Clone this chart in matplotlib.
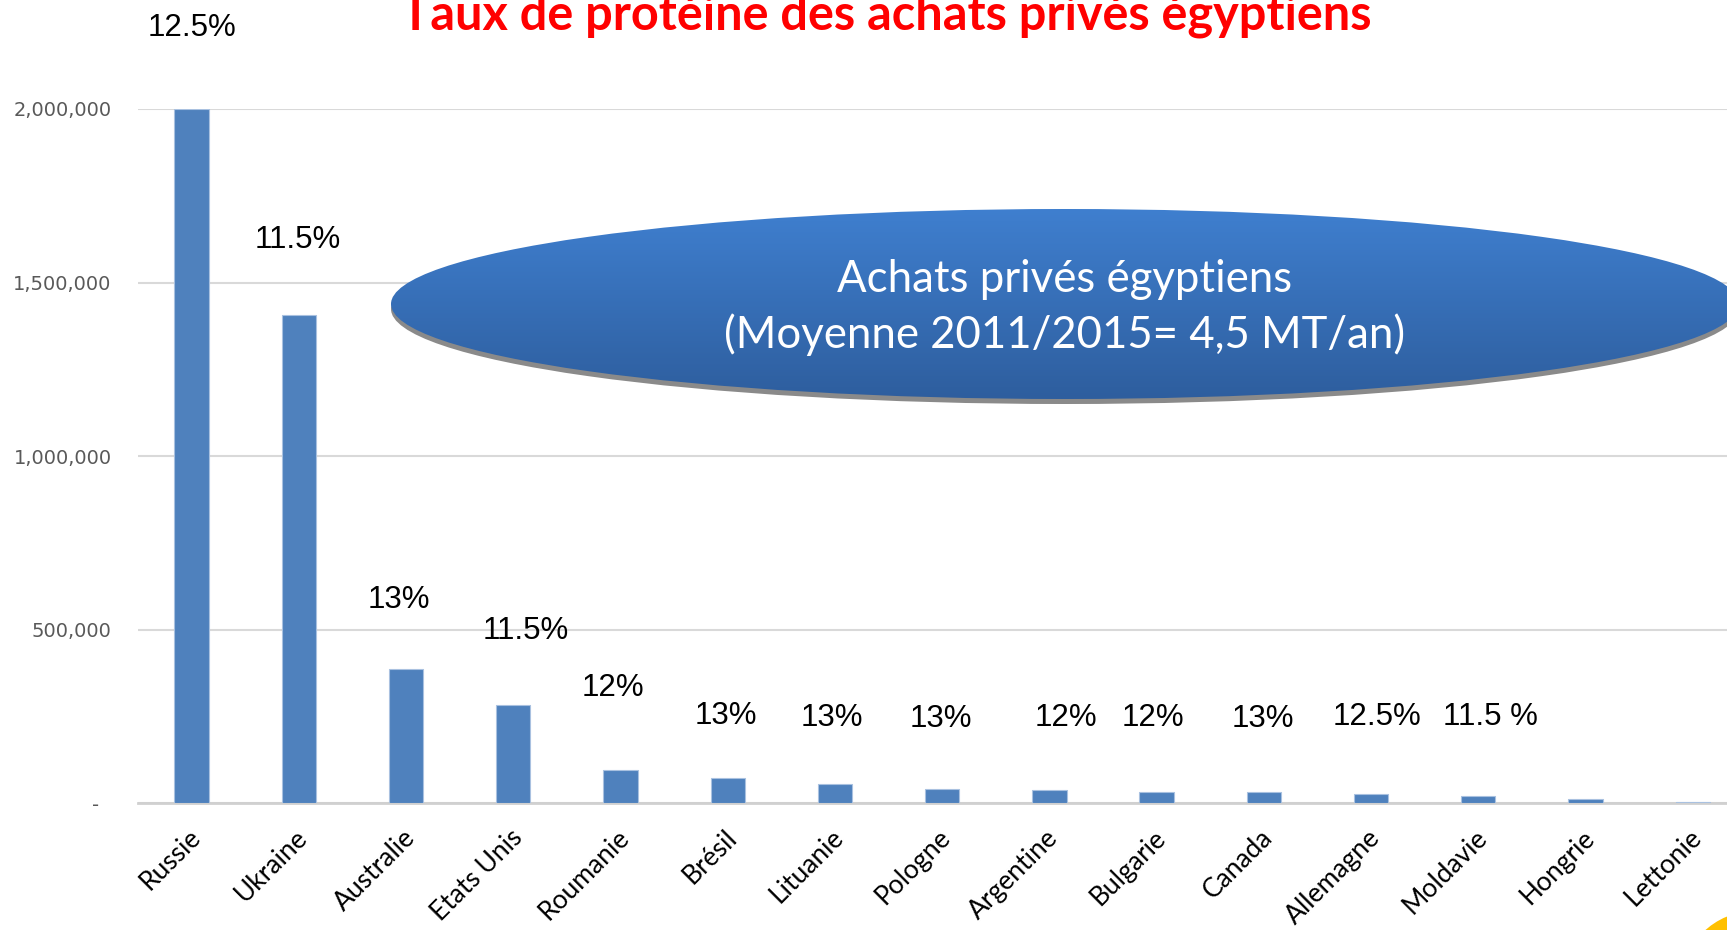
import numpy as np
import matplotlib
matplotlib.use("Agg")
import matplotlib.pyplot as plt
from matplotlib.patches import Ellipse, Circle
from matplotlib.ticker import FixedLocator
import matplotlib.transforms as mtransforms

# data
countries = ["Russie", "Ukraine", "Australie", "Etats Unis", "Roumanie", "Brésil",
             "Lituanie", "Pologne", "Argentine", "Bulgarie", "Canada", "Allemagne",
             "Moldavie", "Hongrie", "Lettonie"]
tonnes = [2000000, 1406000, 387000, 283000, 95000, 73000, 54000, 41000,
          38000, 32000, 31000, 25000, 19000, 12000, 3000]
protein = ["12.5%", "11.5%", "13%", "11.5%", "12%", "13%", "13%", "13%",
           "12%", "12%", "13%", "12.5%", "11.5 %"]
y_ticks = [0, 500000, 1000000, 1500000, 2000000]
y_tick_labels = ["-  ", "500,000", "1,000,000", "1,500,000", "2,000,000"]

# where the protein labels sit (data units), as in the original slide
label_dx = [0.0, -0.01, -0.07, 0.12, -0.07, -0.015, -0.03, -0.01, 0.15, -0.03, -0.01, 0.06, 0.11]
label_y = [2233000, 1622000, 585000, 496000, 331000, 251000, 245000, 242000,
           245000, 245000, 242000, 248000, 248000]

W, H = 1727, 930
fig = plt.figure(figsize=(W / 100, H / 100), dpi=100)

ax = fig.add_axes([138 / W, 1 - 803 / H, (W - 138) / W, (803 - 109) / H])
x = np.arange(len(countries))
ax.bar(x, tonnes, width=0.32, color="#4f81bd", edgecolor="#a9c1e0", linewidth=0.8, zorder=3)

ax.set_xlim(-0.5, 14.32)
ax.set_ylim(0, 2000000)
ax.yaxis.set_major_locator(FixedLocator(y_ticks))
ax.set_yticklabels(y_tick_labels, fontsize=14, color="#595959", family="DejaVu Sans")
ax.grid(axis="y", color="#d9d9d9", linewidth=1.5, zorder=0)
ax.set_axisbelow(True)
for s in ["left", "right", "top"]:
    ax.spines[s].set_visible(False)
ax.spines["bottom"].set_color("#d0d0d0")
ax.spines["bottom"].set_linewidth(2)
ax.tick_params(axis="y", length=0, pad=19)
ax.tick_params(axis="x", length=0, pad=22)

ax.set_xticks(x)
ax.set_xticklabels(countries, rotation=45, ha="right", va="center",
                   rotation_mode="anchor", fontsize=19, family="Lato", color="black")
shift = mtransforms.ScaledTranslation(5 / 100, 0, fig.dpi_scale_trans)
for lab in ax.get_xticklabels():
    lab.set_transform(lab.get_transform() + shift)

for i, txt in enumerate(protein):
    ax.text(i + label_dx[i], label_y[i], txt, ha="center", va="center",
            fontsize=22.5, family="Liberation Sans", color="black", clip_on=False)

# overlay in pixel coordinates for the slide decorations
ov = fig.add_axes([0, 0, 1, 1], zorder=5)
ov.set_xlim(0, W)
ov.set_ylim(H, 0)
ov.axis("off")

cx, cy, ew, eh = 1065, 304, 1348, 190
shadow = Ellipse((cx, cy + 5), ew, eh, facecolor="#8a8a8a", edgecolor="none", zorder=1)
ov.add_patch(shadow)
ell = Ellipse((cx, cy), ew, eh, facecolor="none", edgecolor="none", zorder=1)
ov.add_patch(ell)
top_c = np.array([0x3f, 0x7f, 0xcf]) / 255
bot_c = np.array([0x2e, 0x5e, 0x9e]) / 255
t = np.linspace(0, 1, 256)[:, None]
grad = (top_c[None, :] * (1 - t) + bot_c[None, :] * t)[:, None, :]
im = ov.imshow(grad, extent=(cx - ew / 2, cx + ew / 2, cy + eh / 2, cy - eh / 2),
               aspect="auto", interpolation="bilinear", zorder=2)
im.set_clip_path(ell)
ov.set_xlim(0, W)
ov.set_ylim(H, 0)
ov.text(cx, 279, "Achats privés égyptiens", ha="center", va="center",
        fontsize=31.5, family="Lato", color="white", zorder=3)
ov.text(cx, 335, "(Moyenne 2011/2015= 4,5 MT/an)", ha="center", va="center",
        fontsize=31.5, family="Lato", color="white", zorder=3)

ov.add_patch(Circle((1755, 985), 74, facecolor="#ffc000", edgecolor="none"))

fig.text(886 / W, 1 - 30 / H, "Taux de protéine des achats privés égyptiens",
         ha="center", va="baseline", fontsize=35, fontweight="bold",
         family="Lato", color="#ff0000")

fig.savefig("out.png", dpi=100)
